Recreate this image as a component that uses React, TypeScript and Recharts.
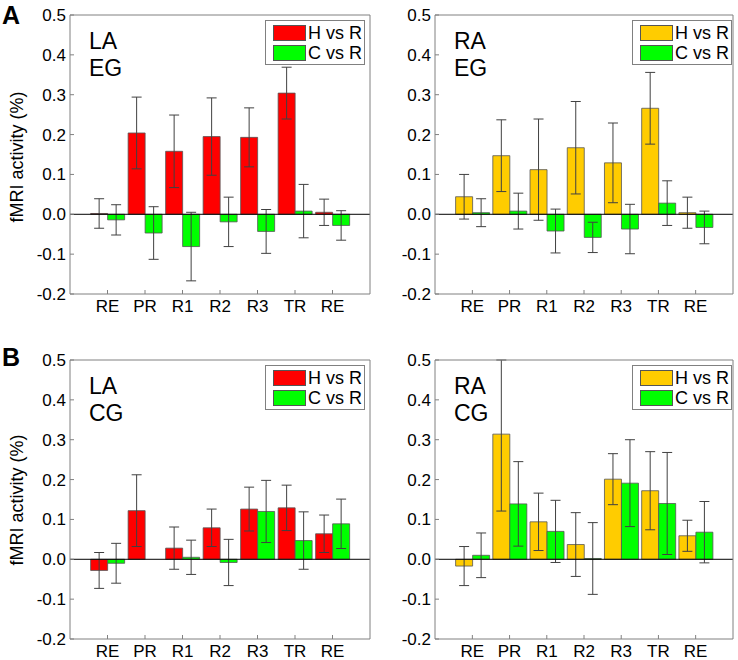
import React from 'react'
import { BarChart, Bar, XAxis, YAxis, ErrorBar, ReferenceLine, Legend } from 'recharts'

const categories = ['RE', 'PR', 'R1', 'R2', 'R3', 'TR', 'RE']
const yTicks = [-0.2, -0.1, 0, 0.1, 0.2, 0.3, 0.4, 0.5]

// LA / EG
const laEgH = [0.002, 0.204, 0.158, 0.195, 0.193, 0.304, 0.005]
const laEgHErr = [0.037, 0.09, 0.091, 0.097, 0.074, 0.065, 0.033]
const laEgC = [-0.014, -0.047, -0.081, -0.019, -0.043, 0.008, -0.028]
const laEgCErr = [0.038, 0.066, 0.086, 0.062, 0.055, 0.067, 0.037]

// RA / EG
const raEgH = [0.044, 0.147, 0.112, 0.167, 0.129, 0.266, 0.004]
const raEgHErr = [0.056, 0.09, 0.127, 0.116, 0.1, 0.09, 0.039]
const raEgC = [0.004, 0.008, -0.042, -0.058, -0.037, 0.028, -0.033]
const raEgCErr = [0.035, 0.045, 0.055, 0.038, 0.062, 0.056, 0.041]

// LA / CG
const laCgH = [-0.028, 0.122, 0.028, 0.079, 0.126, 0.129, 0.064]
const laCgHErr = [0.045, 0.09, 0.053, 0.047, 0.055, 0.057, 0.047]
const laCgC = [-0.01, 0, 0.005, -0.008, 0.12, 0.047, 0.089]
const laCgCErr = [0.05, 0.069, 0.043, 0.058, 0.078, 0.072, 0.062]

// RA / CG (PR upper whisker runs off the top of the axes)
const raCgH = [-0.017, 0.314, 0.094, 0.037, 0.201, 0.172, 0.059]
const raCgHErr: (number | number[])[] = [0.049, [0.193, 0.186], 0.072, 0.08, 0.064, 0.098, 0.039]
const raCgC = [0.01, 0.139, 0.07, 0.002, 0.191, 0.14, 0.068]
const raCgCErr = [0.056, 0.106, 0.078, 0.09, 0.109, 0.128, 0.077]

const RED = '#FF0000'
const YELLOW = '#FFCC00'
const GREEN = '#00FF00'
const FRAME = '#808080'
const FONT = 'Liberation Sans, Arial, sans-serif'

function buildRows(h: number[], hErr: (number | number[])[], c: number[], cErr: number[]) {
  return categories.map((cat, i) => ({ cat, h: h[i], hErr: hErr[i], c: c[i], cErr: cErr[i] }))
}

function LegendBox({ hColor }: { hColor: string }) {
  const items = [
    { label: 'H vs R', color: hColor },
    { label: 'C vs R', color: GREEN },
  ]
  return (
    <div
      style={{
        width: 100,
        height: 45,
        boxSizing: 'border-box',
        border: `1px solid ${FRAME}`,
        background: '#fff',
        padding: '2px 0 0 7px',
        fontFamily: FONT,
        fontSize: 18,
      }}
    >
      {items.map((it) => (
        <div key={it.label} style={{ display: 'flex', alignItems: 'center', height: 20 }}>
          <span style={{ display: 'inline-block', width: 33, height: 16, background: it.color, border: '1px solid #555', boxSizing: 'border-box', marginRight: 2 }} />
          <span style={{ whiteSpace: 'nowrap' }}>{it.label}</span>
        </div>
      ))}
    </div>
  )
}

type PanelProps = {
  left: number
  top: number
  width: number
  rows: ReturnType<typeof buildRows>
  hColor: string
  tag: string[]
  legendLeft: number
}

function Panel({ left, top, width, rows, hColor, tag, legendLeft }: PanelProps) {
  const tickStyle = { fill: '#000', fontSize: 17, fontFamily: FONT }
  return (
    <div style={{ position: 'absolute', left, top, width, height: 320 }}>
      <BarChart
        width={width}
        height={320}
        data={rows}
        margin={{ top: 14, right: 1, bottom: 0, left: 0 }}
        barCategoryGap="5%"
        barGap={0}
      >
        <XAxis
          dataKey="cat"
          height={26}
          padding={{ left: 18.75, right: 18.75 }}
          stroke={FRAME}
          tick={tickStyle}
          tickSize={-4}
          tickMargin={10}
          interval={0}
        />
        <XAxis
          xAxisId="top"
          dataKey="cat"
          orientation="top"
          height={1}
          padding={{ left: 18.75, right: 18.75 }}
          stroke={FRAME}
          tick={false}
          tickSize={-4}
          interval={0}
        />
        <YAxis
          domain={[-0.2, 0.5]}
          ticks={yTicks}
          allowDataOverflow
          width={70}
          stroke={FRAME}
          tick={tickStyle}
          tickSize={-4}
          tickMargin={8}
          tickFormatter={(v: number) => v.toFixed(1)}
        />
        <YAxis
          yAxisId="r"
          orientation="right"
          domain={[-0.2, 0.5]}
          ticks={yTicks}
          allowDataOverflow
          width={1}
          stroke={FRAME}
          tick={false}
          tickSize={-4}
        />
        <Legend
          layout="horizontal"
          verticalAlign="middle"
          align="center"
          wrapperStyle={{ position: 'absolute', left: legendLeft, top: 20, width: 'auto' }}
          content={() => <LegendBox hColor={hColor} />}
        />
        <Bar dataKey="h" name="H vs R" fill={hColor} stroke="#555" strokeWidth={0.8} isAnimationActive={false}>
          <ErrorBar dataKey="hErr" width={5} stroke="#404040" strokeWidth={1} />
        </Bar>
        <Bar dataKey="c" name="C vs R" fill={GREEN} stroke="#555" strokeWidth={0.8} isAnimationActive={false}>
          <ErrorBar dataKey="cErr" width={5} stroke="#404040" strokeWidth={1} />
        </Bar>
        <ReferenceLine y={0} stroke="#000" strokeWidth={1} />
      </BarChart>
      <div style={{ position: 'absolute', left: 89, top: 28, fontFamily: FONT, fontSize: 23, lineHeight: '27px', pointerEvents: 'none' }}>
        {tag.map((t) => (
          <div key={t}>{t}</div>
        ))}
      </div>
    </div>
  )
}

function YTitle({ centerY }: { centerY: number }) {
  return (
    <div
      style={{
        position: 'absolute',
        left: 17,
        top: centerY,
        transform: 'translate(-50%, -50%) rotate(-90deg)',
        whiteSpace: 'nowrap',
        fontFamily: FONT,
        fontSize: 18,
      }}
    >
      fMRI activity (%)
    </div>
  )
}

export default function App() {
  return (
    <div style={{ position: 'absolute', left: 0, top: 0, width: 738, height: 660, background: '#fff', overflow: 'hidden' }}>
      <div style={{ position: 'absolute', left: 2, top: 1, fontFamily: FONT, fontSize: 25, fontWeight: 'bold' }}>A</div>
      <div style={{ position: 'absolute', left: 2, top: 343, fontFamily: FONT, fontSize: 25, fontWeight: 'bold' }}>B</div>
      <YTitle centerY={157} />
      <YTitle centerY={500} />
      <Panel left={0} top={0} width={372} rows={buildRows(laEgH, laEgHErr, laEgC, laEgCErr)} hColor={RED} tag={['LA', 'EG']} legendLeft={265} />
      <Panel left={365} top={0} width={370} rows={buildRows(raEgH, raEgHErr, raEgC, raEgCErr)} hColor={YELLOW} tag={['RA', 'EG']} legendLeft={267} />
      <Panel left={0} top={345} width={372} rows={buildRows(laCgH, laCgHErr, laCgC, laCgCErr)} hColor={RED} tag={['LA', 'CG']} legendLeft={265} />
      <Panel left={365} top={345} width={370} rows={buildRows(raCgH, raCgHErr, raCgC, raCgCErr)} hColor={YELLOW} tag={['RA', 'CG']} legendLeft={267} />
    </div>
  )
}
